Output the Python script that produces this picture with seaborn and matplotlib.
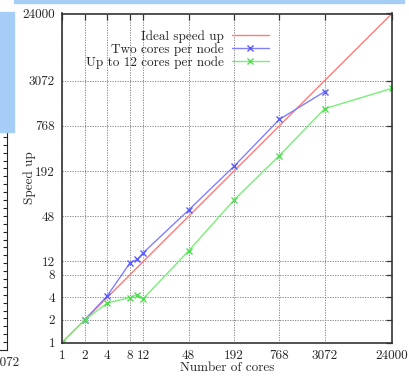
import seaborn as sns
import pandas as pd
import matplotlib.pyplot as plt
from matplotlib.patches import Rectangle

sns.set_style("white")
plt.rcParams['font.family'] = ['cmr10', 'DejaVu Serif']
plt.rcParams['axes.unicode_minus'] = False

# data
ticks = [1, 2, 4, 8, 12, 48, 192, 768, 3072, 24000]
ideal_cores = [1, 24000]
ideal_speed = [1, 24000]
two_cores = [2, 4, 8, 10, 12, 48, 192, 768, 3072]
two_speed = [2, 4.2, 11.5, 12.8, 15.7, 58, 222, 934, 2190]
up12_cores = [1, 2, 4, 8, 10, 12, 48, 192, 768, 3072, 24000]
up12_speed = [1, 2, 3.36, 3.97, 4.35, 3.84, 16.6, 79, 308, 1297, 2420]

W, H = 410, 377
FS = 9.5
fig = plt.figure(figsize=(W / 100, H / 100), dpi=100)

# leftover bits of the screenshot (blue background, neighbouring chart)
fig.patches.append(Rectangle((0, 1 - 132 / H), 14 / W, 120 / H, transform=fig.transFigure,
                             color='#a6cdf5', zorder=0))
fig.patches.append(Rectangle((14 / W, 1 - 3 / H), 390 / W, 3 / H, transform=fig.transFigure,
                             color='#a6cdf5', zorder=0))
axl = fig.add_axes([-100 / W, 1 - 350 / H, 107 / W, 221 / H])
for s in ['top', 'left']:
    axl.spines[s].set_visible(False)
axl.set_xlim(0, 1)
axl.set_ylim(0, 28)
axl.yaxis.tick_right()
axl.set_yticks(range(1, 28))
axl.set_yticklabels([])
axl.tick_params(axis='y', direction='in', length=3, width=0.8)
axl.set_xticks([1])
axl.set_xticklabels(['3072'], fontsize=FS)
axl.tick_params(axis='x', length=0, pad=5)

# main chart
ax = fig.add_axes([62 / W, 1 - 342.5 / H, 330 / W, 329 / H])

df_ideal = pd.DataFrame({'cores': ideal_cores, 'speed': ideal_speed})
df_two = pd.DataFrame({'cores': two_cores, 'speed': two_speed})
df_up = pd.DataFrame({'cores': up12_cores, 'speed': up12_speed})

sns.lineplot(data=df_ideal, x='cores', y='speed', ax=ax, color='#ff7a7a', lw=1,
             sort=False, label='Ideal speed up')
sns.lineplot(data=df_two, x='cores', y='speed', ax=ax, color='#8080ff', lw=1,
             marker='x', markersize=5, markeredgewidth=1, markeredgecolor='#5a5aff',
             sort=False, label='Two cores per node')
sns.lineplot(data=df_up, x='cores', y='speed', ax=ax, color='#78ee78', lw=1,
             marker='x', markersize=5, markeredgewidth=1, markeredgecolor='#50dd50',
             sort=False, label='Up to 12 cores per node')

ax.set_xscale('log', base=2)
ax.set_yscale('log', base=2)
ax.set_xlim(1, 24000)
ax.set_ylim(1, 24000)
ax.set_xticks(ticks)
ax.set_xticklabels([str(t) for t in ticks])
ax.set_yticks(ticks)
ax.set_yticklabels([str(t) for t in ticks])
ax.minorticks_off()
ax.tick_params(direction='in', length=4, width=0.9, labelsize=FS, pad=5,
               top=True, right=True, color='#333333')
ax.grid(True, ls=(0, (1.5, 1.5)), color='#777777', lw=0.6)
for s in ax.spines.values():
    s.set_color('#333333')
    s.set_linewidth(1.2)

ax.set_xlabel('Number of cores', fontsize=FS, labelpad=0)
ax.set_ylabel('Speed up', fontsize=FS)
ax.yaxis.set_label_coords(-0.08, 0.5)

# gnuplot-style key: text right aligned, sample on the right
leg = ax.legend(loc='upper right', bbox_to_anchor=(0.627, 0.95), frameon=False,
                markerfirst=False, fontsize=FS, handlelength=2.8, handletextpad=0.6,
                labelspacing=0.05, borderpad=0, borderaxespad=0)

fig.savefig('out.png', dpi=100)
